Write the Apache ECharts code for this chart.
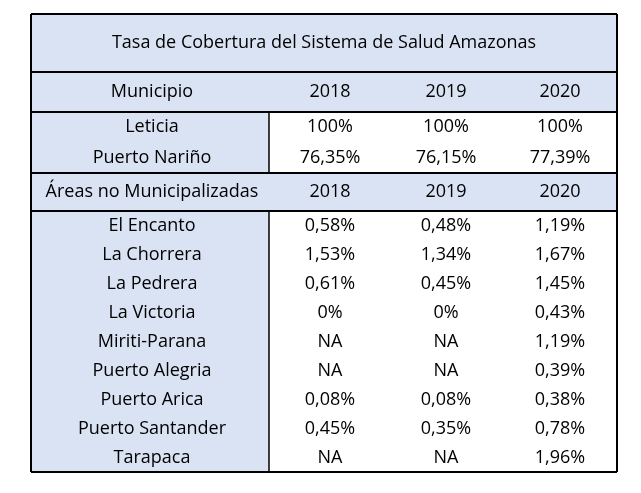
<!DOCTYPE html><html><head><meta charset="utf-8">
<script src="https://cdn.jsdelivr.net/npm/echarts@6/dist/echarts.min.js"></script>
<style>html,body{margin:0;background:#fff}#c{width:641px;height:493px}</style></head><body><div id="c"></div>
<script>
const title = 'Tasa de Cobertura del Sistema de Salud Amazonas';
const years = ['2018','2019','2020'];
const municipios = ['Leticia','Puerto Nariño'];
const municipioValues = [['100%','100%','100%'],['76,35%','76,15%','77,39%']];
const areas = ['El Encanto','La Chorrera','La Pedrera','La Victoria','Miriti-Parana','Puerto Alegria','Puerto Arica','Puerto Santander','Tarapaca'];
const areaValues = [
 ['0,58%','0,48%','1,19%'],['1,53%','1,34%','1,67%'],['0,61%','0,45%','1,45%'],['0%','0%','0,43%'],
 ['NA','NA','1,19%'],['NA','NA','0,39%'],['0,08%','0,08%','0,38%'],['0,45%','0,35%','0,78%'],['NA','NA','1,96%']];

// layout
const L=31,R=617,T=14,B=472,C1=269, yTitle=72,yHead=112,yMun=173,yArea=211;
const colX=[152,330,446,560];
const blue='#dae3f3';
const items=[];
function rect(x0,y0,x1,y1,fill){items.push({t:'r',x0,y0,x1,y1,fill});}
function line(x0,y0,x1,y1,w){items.push({t:'l',x0,y0,x1,y1,w});}
function txt(x,y,s){items.push({t:'t',x,y,s});}
rect(L,T,R,B,blue);
rect(C1,yHead,R,yMun,'#fff');
rect(C1,yArea,R,B,'#fff');
txt((L+R)/2,(T+yTitle)/2,title);
txt(colX[0],(yTitle+yHead)/2,'Municipio');
years.forEach((y,i)=>txt(colX[i+1],(yTitle+yHead)/2,y));
const mh=(yMun-yHead)/2;
municipios.forEach((m,r)=>{const cy=yHead+mh*(r+0.5);txt(colX[0],cy,m);municipioValues[r].forEach((v,i)=>txt(colX[i+1],cy,v));});
txt(colX[0],(yMun+yArea)/2,'Áreas no Municipalizadas');
years.forEach((y,i)=>txt(colX[i+1],(yMun+yArea)/2,y));
const ah=(B-yArea)/areas.length;
areas.forEach((a,r)=>{const cy=yArea+ah*(r+0.5);txt(colX[0],cy,a);areaValues[r].forEach((v,i)=>txt(colX[i+1],cy,v));});
[yTitle,yHead,yMun,yArea].forEach(y=>line(L,y,R,y,2));
line(C1,yHead,C1,yMun,1.5);line(C1,yArea,C1,B,1.5);
line(L,T,R,T,2);line(L,B,R,B,2);line(L,T,L,B,2);line(R,T,R,B,2);

const chart=echarts.init(document.getElementById('c'));
chart.setOption({animation:false,
 grid:{left:0,right:0,top:0,bottom:0},
 xAxis:{type:'value',min:0,max:641,show:false},
 yAxis:{type:'value',min:0,max:493,inverse:true,show:false},
 series:[{type:'custom',data:items.map((d,i)=>[i]),renderItem:(p,api)=>{
  const d=items[api.value(0)];
  if(d.t==='r'){const a=api.coord([d.x0,d.y0]),b=api.coord([d.x1,d.y1]);
   return {type:'rect',shape:{x:a[0],y:a[1],width:b[0]-a[0],height:b[1]-a[1]},style:{fill:d.fill}};}
  if(d.t==='l'){const a=api.coord([d.x0,d.y0]),b=api.coord([d.x1,d.y1]);
   return {type:'line',shape:{x1:a[0],y1:a[1],x2:b[0],y2:b[1]},style:{stroke:'#000',lineWidth:d.w}};}
  const a=api.coord([d.x,d.y]);
  return {type:'text',x:a[0],y:a[1],style:{text:d.s,fill:'#000',font:'18px "Open Sans", sans-serif',align:'center',verticalAlign:'middle'}};
 }}]});
</script></body></html>
